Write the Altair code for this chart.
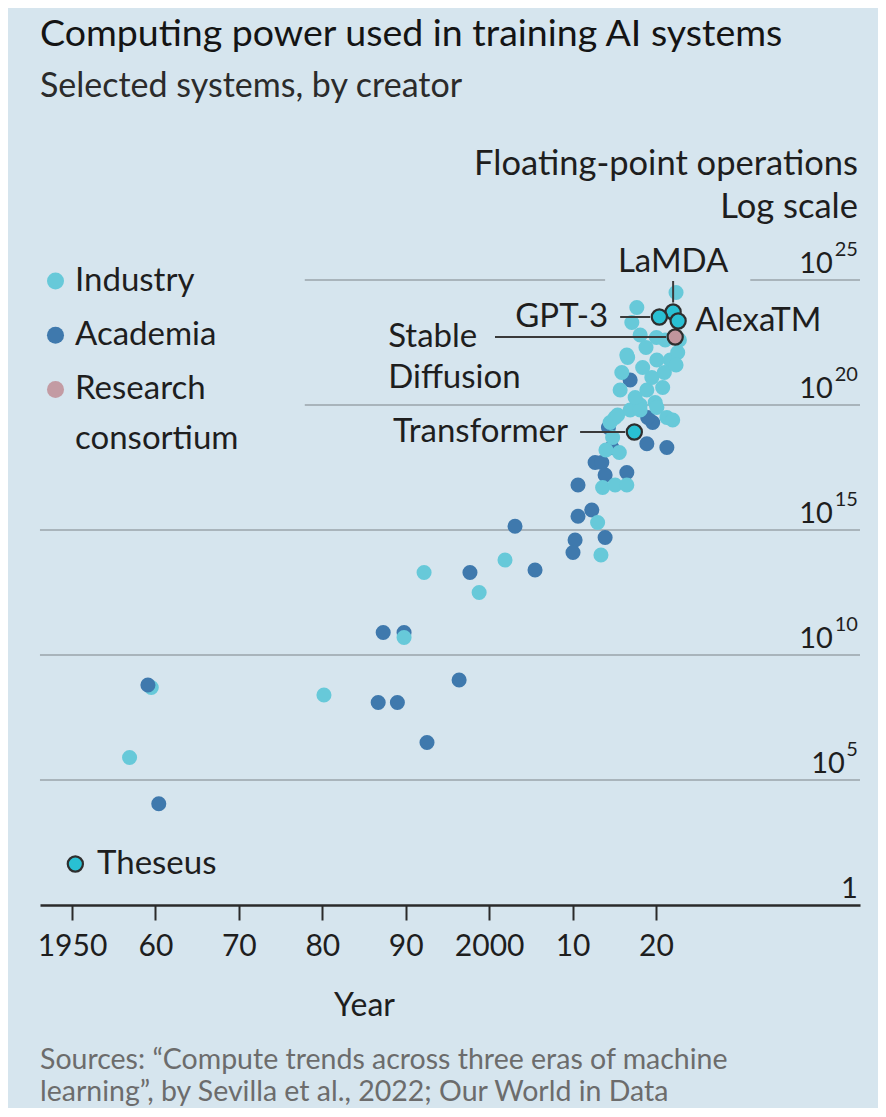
import altair as alt
import pandas as pd

# ---------------- data ----------------
# year (decimal) and log10 of floating-point operations
ind_year = [1956.9, 1980.2, 1989.8, 1992.2, 1998.8, 2001.9, 2013.0, 2013.4, 2013.6, 2015.1,
            2016.5, 2014.0, 2015.6, 2014.8, 2015.1, 2014.5, 2015.4, 2016.9, 2018.1, 2019.9,
            2021.3, 2022.0, 2018.1, 2020.1, 2015.7, 2018.9, 2020.8, 2019.5, 2015.9, 2016.6,
            2018.4, 2020.1, 2021.7, 2022.6, 2018.8, 2018.1, 2017.1, 2017.7, 2022.4, 2021.1,
            2022.8, 2021.0, 2022.4, 2020.05, 2016.5, 2017.5]
ind_exp = [5.9, 8.4, 10.7, 13.3, 12.5, 13.8, 15.3, 14.0, 16.7, 16.8,
           16.8, 18.2, 18.1, 18.7, 19.5, 19.3, 19.6, 19.8, 20.0, 20.1,
           19.5, 19.4, 19.8, 19.9, 20.6, 20.6, 20.7, 21.1, 21.3, 21.9,
           21.5, 21.8, 21.8, 22.1, 22.3, 22.8, 23.3, 23.9, 24.5, 22.6,
           22.6, 21.3, 21.6, 22.7, 22.0, 20.3]
# the one industry system drawn underneath an academic one (1959)
ind_under_year = [1959.5]
ind_under_exp = [8.7]

aca_year = [1959.1, 1960.4, 1987.3, 1989.8, 1986.7, 1989.0, 1992.55, 1996.4, 1997.7, 2005.5,
            2003.1, 2010.65, 2012.3, 2010.3, 2010.05, 2013.9, 2010.65, 2012.7, 2013.5, 2013.9,
            2016.5, 2014.7, 2014.3, 2018.9, 2021.3, 2019.6, 2019.0, 2016.9]
aca_exp = [8.8, 4.05, 10.9, 10.9, 8.1, 8.1, 6.5, 9.0, 13.3, 13.4,
           15.15, 15.55, 15.8, 14.6, 14.1, 14.7, 16.8, 17.7, 17.7, 17.2,
           17.3, 18.3, 19.1, 18.45, 18.3, 19.3, 19.5, 21.0]

hl_name = ["Theseus", "Transformer", "LaMDA", "Stable Diffusion", "GPT-3", "AlexaTM"]
hl_year = [1950.4, 2017.4, 2022.05, 2022.3, 2020.4, 2022.65]
hl_exp = [1.64, 18.92, 23.72, 22.72, 23.52, 23.36]
hl_creator = ["Industry", "Industry", "Industry", "Research consortium", "Industry", "Industry"]

creators = ["Industry", "Academia", "Research consortium"]
creator_colors = ["#67c9d9", "#3f79ad", "#c39ba3"]
hl_fill_for = {"Industry": "#29c0d3", "Research consortium": "#c1959d"}

tick_years = [1950, 1960, 1970, 1980, 1990, 2000, 2010, 2020]
grid_exp = [25, 20, 15, 10, 5]

title_text = "Computing power used in training AI systems"
subtitle_text = "Selected systems, by creator"
y_title_lines = ["Floating-point operations", "Log scale"]
y_title_exp = [29.2, 27.48]
x_title = "Year"
source_lines = ["Sources: \u201cCompute trends across three eras of machine",
                "learning\u201d, by Sevilla et al., 2022; Our World in Data"]

# annotation labels (anchor in data coordinates)
lab_text = ["LaMDA", "GPT-3", "Stable", "Diffusion", "AlexaTM", "Transformer", "Theseus", "consortium"]
lab_year = [2022.05, 2014.25, 1987.9, 1987.9, 2024.7, 2009.45, 1953.0, 1950.36]
lab_exp = [25.72, 23.52, 22.72, 21.08, 23.36, 18.92, 1.64, 18.64]
lab_align = ["center", "right", "left", "left", "left", "right", "left", "left"]

# leader lines
lead_year = [2022.05, 2015.7, 2000.7, 2010.9]
lead_year2 = [2022.05, 2019.3, 2021.2, 2016.3]
lead_exp = [24.96, 23.52, 22.72, 18.92]
lead_exp2 = [24.1, 23.52, 22.72, 18.92]

# gridline segments
seg_exp = [25, 25, 20, 15, 10, 5]
seg_from = [1977.9, 2031.3, 1977.9, 1946.16, 1946.16, 1946.16]
seg_to = [2013.9, 2044.45, 2044.45, 2044.45, 2044.45, 2044.45]

X_DOMAIN = [1946.164, 2044.45]
LABEL_X = 2044.2

# ---------------- tables ----------------
pts = pd.concat([
    pd.DataFrame({"creator": "Industry", "year": ind_under_year, "e": ind_under_exp}),
    pd.DataFrame({"creator": "Academia", "year": aca_year, "e": aca_exp}),
    pd.DataFrame({"creator": "Industry", "year": ind_year, "e": ind_exp}),
], ignore_index=True)
pts["flops"] = 10.0 ** pts["e"]

hl = pd.DataFrame({"name": hl_name, "year": hl_year, "e": hl_exp, "creator": hl_creator})
hl["flops"] = 10.0 ** hl["e"]
hl["fill"] = hl["creator"].map(hl_fill_for)

labs = pd.DataFrame({"text": lab_text, "year": lab_year, "e": lab_exp, "align": lab_align})
labs["flops"] = 10.0 ** labs["e"]

leads = pd.DataFrame({"year": lead_year, "year2": lead_year2, "e": lead_exp, "e2": lead_exp2})
leads["flops"] = 10.0 ** leads["e"]
leads["flops2"] = 10.0 ** leads["e2"]

segs = pd.DataFrame({"year": seg_from, "year2": seg_to, "e": seg_exp})
segs["flops"] = 10.0 ** segs["e"]

ylab = pd.DataFrame({"e": grid_exp})
ylab["flops"] = 10.0 ** ylab["e"]
ylab["year"] = LABEL_X
ylab["base"] = "10"
ylab["sup"] = ylab["e"].astype(str)
ylab["nd"] = ylab["sup"].str.len()

one = pd.DataFrame({"year": [LABEL_X], "flops": [1.0], "text": ["1"]})

ytitle = pd.DataFrame({"text": y_title_lines, "e": y_title_exp})
ytitle["flops"] = 10.0 ** ytitle["e"]
ytitle["year"] = LABEL_X

src = pd.DataFrame({"text": ["\n".join(source_lines)]})

# ---------------- encodings ----------------
FONT = "Lato"
INK = "#1e1e1e"
xscale = alt.Scale(domain=X_DOMAIN, nice=False, zero=False)
yscale = alt.Scale(type="log", domain=[1, 1e25], nice=False)

xaxis = alt.Axis(
    values=tick_years, format="d",
    labelExpr="datum.value == 1950 || datum.value == 2000 ? datum.label : substring(datum.label, 2, 4)",
    grid=False, domainColor="#2a2a2a", domainWidth=2.5,
    tickColor="#2a2a2a", tickWidth=2, tickSize=15,
    labelFont=FONT, labelFontSize=30, labelColor=INK, labelPadding=11,
    labelFlush=False, labelOverlap=False,
    title=x_title, titleFont=FONT, titleFontSize=32, titleFontWeight="normal",
    titleColor=INK, titleX=324, titleY=110, titleBaseline="alphabetic", titleAlign="center",
)

X = alt.X("year:Q", scale=xscale, axis=xaxis)
Y = alt.Y("flops:Q", scale=yscale, axis=None)

grid = alt.Chart(segs).mark_rule(color="#a9b4bb", strokeWidth=2).encode(
    x=X, x2="year2:Q", y=Y)

points = alt.Chart(pts).mark_circle(size=227, opacity=1).encode(
    x=X, y=Y,
    color=alt.Color("creator:N",
                    scale=alt.Scale(domain=creators, range=creator_colors),
                    legend=alt.Legend(
                        title=None, orient="none", legendX=-1, legendY=-15.5,
                        symbolType="circle", symbolSize=290, symbolStrokeWidth=0,
                        symbolOpacity=1, labelFont=FONT, labelFontSize=33,
                        labelColor=INK, labelOffset=3, rowPadding=20.2,
                        padding=0, labelLimit=400,
                        labelExpr="datum.label == 'Research consortium' ? 'Research' : datum.label",
                    )),
)

lead_lines = alt.Chart(leads).mark_rule(color="#3a3a3a", strokeWidth=2).encode(
    x=X, x2="year2:Q", y=Y, y2="flops2:Q")

hl_points = alt.Chart(hl).mark_circle(size=230, opacity=1, stroke="#2e2e2e", strokeWidth=2.2).encode(
    x=X, y=Y, fill=alt.Fill("fill:N", scale=None))

def label_layer(align):
    return alt.Chart(labs[labs["align"] == align]).mark_text(
        font=FONT, fontSize=33, color=INK, align=align, baseline="middle").encode(
        x=X, y=Y, text="text:N")

ylab_layers = []
for nd, dxb in [(2, -25), (1, -13)]:
    sub = ylab[ylab["nd"] == nd]
    ylab_layers.append(alt.Chart(sub).mark_text(
        font=FONT, fontSize=29, color=INK, align="right", baseline="alphabetic", dx=dxb, dy=-7
    ).encode(x=X, y=Y, text="base:N"))
    ylab_layers.append(alt.Chart(sub).mark_text(
        font=FONT, fontSize=20, color=INK, align="right", baseline="alphabetic", dy=-24
    ).encode(x=X, y=Y, text="sup:N"))

one_layer = alt.Chart(one).mark_text(
    font=FONT, fontSize=29, color=INK, align="right", baseline="alphabetic", dy=-7
).encode(x=X, y=Y, text="text:N")

ytitle_layer = alt.Chart(ytitle).mark_text(
    font=FONT, fontSize=34.5, color=INK, align="right", baseline="alphabetic"
).encode(x=X, y=Y, text="text:N")

src_layer = alt.Chart(src).mark_text(
    font=FONT, fontSize=28.5, color="#6c6c6c", align="left", baseline="alphabetic",
    lineBreak="\n", lineHeight=32
).encode(x=alt.value(0), y=alt.value(789), text="text:N")

chart = alt.layer(
    grid, points, lead_lines, hl_points,
    label_layer("left"), label_layer("right"), label_layer("center"),
    *ylab_layers, one_layer, ytitle_layer, src_layer,
).properties(
    width=820, height=625,
    autosize=alt.AutoSizeParams(type="none"),
    padding={"left": 32, "top": 272, "right": 18, "bottom": 203},
    background="#d6e5ee",
    title=alt.TitleParams(
        text=title_text, subtitle=subtitle_text, anchor="start", frame="group",
        font=FONT, fontSize=37.5, fontWeight="normal", color="#141414",
        subtitleFont=FONT, subtitleFontSize=34, subtitleColor="#2b2b2b",
        subtitlePadding=17, offset=43,
    ),
).configure(font=FONT).configure_view(strokeWidth=0)

chart.save("out.html", embed_options={"renderer": "svg", "actions": False})
